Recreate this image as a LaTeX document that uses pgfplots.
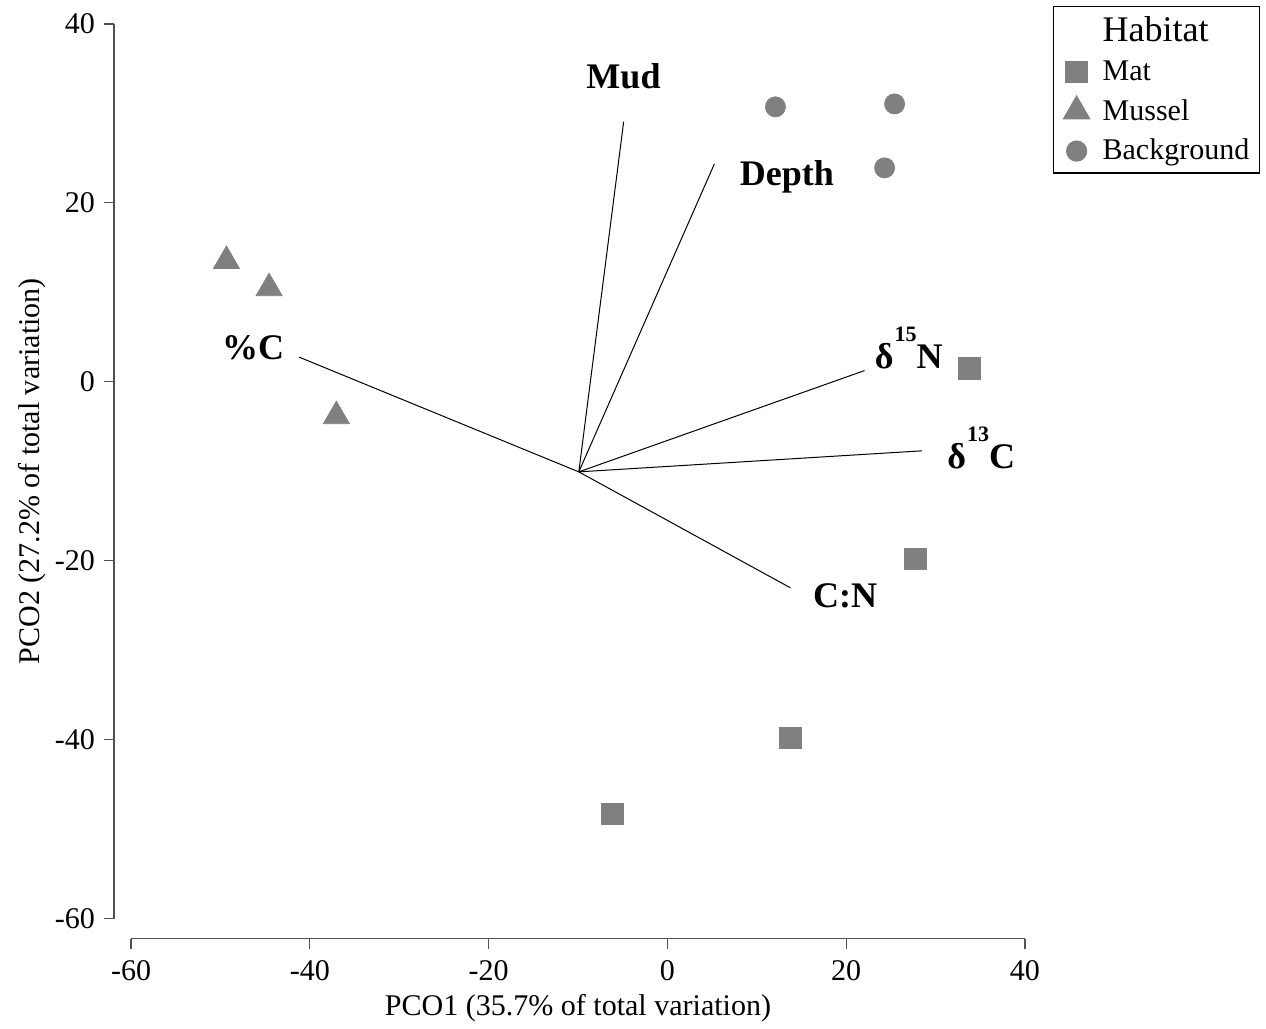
\documentclass[border=0pt]{standalone}
\usepackage{pgfplots}
\pgfplotsset{compat=1.18}
\usepackage{fontspec}
\setmainfont{Liberation Serif}
\definecolor{mk}{HTML}{808080}
\definecolor{ax}{HTML}{505050}
\newcommand{\fs}{\fontsize{15}{18}\selectfont}
\newcommand{\fb}{\fontsize{18}{21}\selectfont\bfseries}
\newcommand{\isosup}[1]{\hspace{0.5pt}\raisebox{13.5pt}{\fontsize{11}{11}\selectfont\bfseries #1}}
\begin{document}
\begin{tikzpicture}
\begin{axis}[
  scale only axis,
  width=446.5pt, height=447pt,
  xmin=-60, xmax=40, ymin=-60, ymax=40,
  axis x line=bottom, axis y line=left,
  axis x line shift=10pt, axis y line shift=8.5pt,
  axis line style={-, ax, line width=0.6pt},
  tick align=outside,
  major tick length=5pt,
  tick style={ax, line width=0.6pt},
  xtick={-60,-40,...,40}, ytick={-60,-40,...,40},
  minor tick num=0,
  /pgf/number format/assume math mode=true,
  ticklabel style={font=\fs},
  xticklabel style={yshift=-2.5pt},
  yticklabel style={xshift=-1pt},
  xlabel={PCO1 (35.7\% of total variation)},
  ylabel={PCO2 (27.2\% of total variation)},
  label style={font=\fs},
  xlabel style={yshift=0.5pt},
  ylabel style={yshift=-2.5pt},
  clip=false,
  legend cell align=left,
  legend style={at={(axis description cs:1.263,1.02)}, anchor=north east,
    draw=black, line width=0.6pt, font=\fs, row sep=4pt,
    inner xsep=3pt, inner ysep=3pt,
    /tikz/every odd column/.append style={column sep=4.5pt}},
]
% vectors
\addplot[black, line width=0.5pt, forget plot] coordinates {(-9.91,-10.06) (-4.89,29.08)};
\addplot[black, line width=0.5pt, forget plot] coordinates {(-9.91,-10.06) (5.26,24.36)};
\addplot[black, line width=0.5pt, forget plot] coordinates {(-9.91,-10.06) (22.06,1.26)};
\addplot[black, line width=0.5pt, forget plot] coordinates {(-9.91,-10.06) (28.48,-7.71)};
\addplot[black, line width=0.5pt, forget plot] coordinates {(-9.91,-10.06) (13.77,-23.02)};
\addplot[black, line width=0.5pt, forget plot] coordinates {(-9.91,-10.06) (-41.2,2.76)};
% legend title
\addlegendimage{empty legend}
\addlegendentry[font=\fontsize{18}{21}\selectfont]{Habitat}
% Mat
\addplot[only marks, mark=square*, mark size=5.4pt, mk, mark options={draw=mk, fill=mk}]
  coordinates {(33.82,1.47) (27.77,-19.78) (13.77,-39.78) (-6.16,-48.27)};
\addlegendentry{Mat}
% Mussel
\addplot[only marks, mark=triangle*, mark size=7.5pt, mk, mark options={draw=mk, fill=mk}]
  coordinates {(-49.33,13.5) (-44.56,10.46) (-37.03,-3.84)};
\addlegendentry{Mussel}
% Background
\addplot[only marks, mark=*, mark size=5pt, mk, mark options={draw=mk, fill=mk}]
  coordinates {(12.09,30.73) (25.42,31.06) (24.3,23.91)};
\addlegendentry{Background}
% vector labels
\node[anchor=base west, inner sep=0pt, font=\fb] at (axis cs:-9.1,32.8) {Mud};
\node[anchor=base west, inner sep=0pt, font=\fb] at (axis cs:8.06,21.9) {Depth};
\node[anchor=base west, inner sep=0pt, font=\fb] at (axis cs:23.18,1.45) {δ\isosup{15}N};
\node[anchor=base west, inner sep=0pt, font=\fb] at (axis cs:31.28,-9.64) {δ\isosup{13}C};
\node[anchor=base west, inner sep=0pt, font=\fb] at (axis cs:16.27,-25.2) {C:N};
\node[anchor=base west, inner sep=0pt, font=\fb] at (axis cs:-49.87,2.46) {\%C};
\end{axis}
\path (current bounding box.south west) +(-6pt,0pt)
      (current bounding box.north east) +(3pt,3pt);
\end{tikzpicture}
\end{document}
